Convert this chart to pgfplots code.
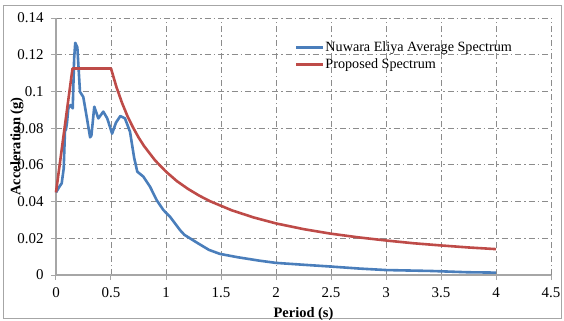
\documentclass[border=0pt]{standalone}
\usepackage{pgfplots}
\pgfplotsset{compat=1.18}
\usepackage{fontspec}
\setmainfont{Liberation Serif}
\definecolor{serblue}{HTML}{4A7EBB}
\definecolor{serred}{HTML}{BE4B48}
\definecolor{gridgray}{HTML}{8C8C8C}
\definecolor{axgray}{HTML}{A6A6A6}
\newcommand{\tl}[1]{\fontsize{15}{16}\selectfont #1}
\begin{document}
\begin{tikzpicture}[x=1bp,y=1bp]
\useasboundingbox (-56,-45) rectangle (508,275);
\draw[axgray, line width=1bp] (-52,-43) rectangle (505,270);
\begin{axis}[
  at={(0,0)}, anchor=origin,
  scale only axis, width=495bp, height=257bp,
  xmin=0, xmax=4.5, ymin=0, ymax=0.14,
  xtick={0,0.5,1,1.5,2,2.5,3,3.5,4,4.5},
  ytick={0,0.02,0.04,0.06,0.08,0.1,0.12,0.14},
  yticklabels={\tl{0},\tl{0.02},\tl{0.04},\tl{0.06},\tl{0.08},\tl{0.1},\tl{0.12},\tl{0.14}},
  xticklabels={\tl{0},\tl{0.5},\tl{1},\tl{1.5},\tl{2},\tl{2.5},\tl{3},\tl{3.5},\tl{4},\tl{4.5}},
  scaled y ticks=false,
  axis lines=left,
  axis line style={-, axgray, line width=1.2bp},
  tick align=outside,
  major tick length=5bp,
  tick style={axgray, line width=1bp},
  grid=major,
  major grid style={gridgray, line width=0.8bp, dash pattern=on 6bp off 3bp on 1.5bp off 3bp},
  /pgf/number format/assume math mode=true,
  xticklabel style={yshift=-4bp},
  yticklabel style={xshift=-4bp},
  xlabel={\fontsize{14.5}{16}\selectfont\bfseries Period (s)},
  ylabel={\fontsize{14.5}{16}\selectfont\bfseries Acceleration (g)},
  every axis x label/.style={at={(axis description cs:0.5,-0.1515)}, anchor=center},
  every axis y label/.style={at={(axis description cs:-0.0788,0.5)}, anchor=center, rotate=90},
  legend style={draw=none, fill=none, at={(axis cs:2.17,0.1277)}, anchor=north west,
    font=\fontsize{14.2}{16}\selectfont, row sep=4bp, inner sep=0pt, nodes={inner sep=1pt}},
  legend cell align=left,
  legend image code/.code={\draw[#1, line width=2.6bp] (0bp,0bp) -- (27bp,0bp);},
  clip=false,
]
\addplot[serblue, line width=2.6bp, line join=round] coordinates {
(0,0.0450) (0.03,0.0480) (0.052,0.0500) (0.07,0.058) (0.082,0.0790) (0.09,0.0790) (0.1,0.0830)
(0.112,0.0908) (0.133,0.0926) (0.152,0.0908) (0.165,0.1180) (0.175,0.1265) (0.194,0.1240)
(0.218,0.0998) (0.248,0.0970) (0.279,0.0862) (0.31,0.0750) (0.322,0.0760) (0.348,0.0917)
(0.385,0.0853) (0.43,0.0890) (0.466,0.0853) (0.51,0.0770) (0.545,0.0830) (0.585,0.0866)
(0.627,0.0853) (0.673,0.0780) (0.71,0.0640) (0.739,0.0563) (0.794,0.0536) (0.855,0.0481)
(0.915,0.0408) (0.976,0.0354) (1.036,0.0318) (1.127,0.0245) (1.167,0.0219) (1.29,0.0173)
(1.39,0.0137) (1.49,0.0115) (1.65,0.0097) (1.85,0.0078) (2.0,0.0066) (2.27,0.0055)
(2.5,0.0046) (2.76,0.0035) (3.0,0.0027) (3.41,0.0022) (3.74,0.0015) (4.0,0.0013)
};
\addlegendentry{Nuwara Eliya Average Spectrum}
\addplot[serred, line width=2.6bp, line join=round] coordinates {
(0,0.045) (0.15,0.1125) (0.5,0.1125) (0.55,0.1023) (0.6,0.0938) (0.65,0.0865) (0.7,0.0804)
(0.75,0.0750) (0.8,0.0703) (0.9,0.0625) (1.0,0.0563) (1.1,0.0511) (1.2,0.0469) (1.3,0.0433)
(1.4,0.0402) (1.6,0.0352) (1.8,0.0313) (2.0,0.0281) (2.25,0.0250) (2.5,0.0225) (2.75,0.0205)
(3.0,0.0188) (3.25,0.0173) (3.5,0.0161) (3.75,0.0150) (4.0,0.0141)
};
\addlegendentry{Proposed Spectrum}
\end{axis}
\end{tikzpicture}
\end{document}
